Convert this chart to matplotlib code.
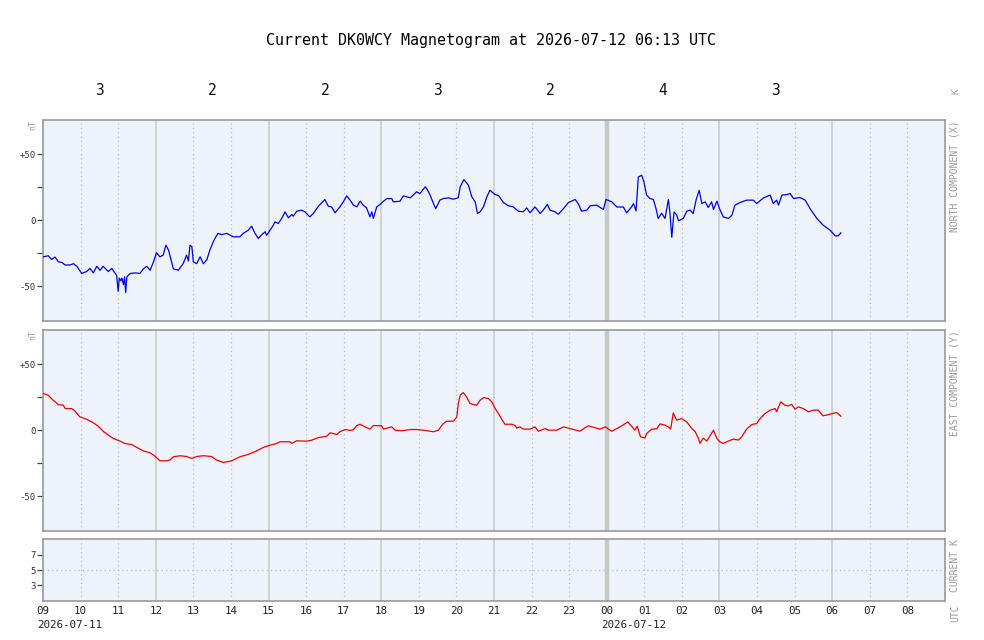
import matplotlib
matplotlib.use("Agg")
import matplotlib.pyplot as plt
import matplotlib.transforms as mtransforms

# ---- data (hours since 2026-07-11 09:00 UTC) ----
x_time = [0.01, 0.14, 0.23, 0.32, 0.41, 0.50, 0.59, 0.72, 0.81, 0.90, 1.03, 1.16, 1.25, 1.34, 1.43,
          1.52, 1.60, 1.74, 1.83, 1.92, 1.96, 2.00, 2.03, 2.07, 2.10, 2.14, 2.17, 2.20, 2.23, 2.32,
          2.45, 2.58, 2.67, 2.76, 2.85, 2.94, 3.02, 3.11, 3.20, 3.27, 3.34, 3.42, 3.47, 3.60, 3.73,
          3.82, 3.87, 3.91, 3.96, 4.00, 4.09, 4.18, 4.27, 4.36, 4.44, 4.53, 4.60, 4.66, 4.75, 4.89,
          5.06, 5.24, 5.33, 5.46, 5.55, 5.64, 5.73, 5.82, 5.91, 5.95, 6.04, 6.13, 6.17, 6.26, 6.35,
          6.44, 6.53, 6.62, 6.66, 6.75, 6.88, 6.97, 7.10, 7.19, 7.33, 7.50, 7.59, 7.68, 7.77, 7.90,
          7.99, 8.08, 8.17, 8.26, 8.35, 8.44, 8.52, 8.61, 8.70, 8.75, 8.79, 8.88, 8.97, 9.06, 9.15,
          9.28, 9.32, 9.50, 9.59, 9.68, 9.77, 9.85, 9.94, 10.03, 10.08, 10.17, 10.21, 10.30, 10.39,
          10.45, 10.56, 10.65, 10.79, 10.92, 11.05, 11.10, 11.20, 11.32, 11.41, 11.50, 11.56, 11.63,
          11.72, 11.81, 11.89, 12.03, 12.12, 12.25, 12.38, 12.51, 12.65, 12.78, 12.87, 12.96, 13.09,
          13.23, 13.31, 13.42, 13.49, 13.62, 13.71, 13.85, 13.98, 14.16, 14.24, 14.33, 14.47, 14.56,
          14.73, 14.91, 14.98, 15.13, 15.27, 15.44, 15.53, 15.66, 15.71, 15.78, 15.84, 15.93, 15.99,
          16.06, 16.15, 16.24, 16.31, 16.37, 16.46, 16.55, 16.64, 16.68, 16.73, 16.79, 16.86, 16.91,
          17.04, 17.13, 17.22, 17.30, 17.38, 17.46, 17.53, 17.62, 17.70, 17.79, 17.84, 17.93, 18.01,
          18.10, 18.24, 18.33, 18.41, 18.55, 18.72, 18.90, 18.99, 19.17, 19.35, 19.43, 19.52, 19.57,
          19.66, 19.79, 19.88, 19.97, 20.14, 20.28, 20.41, 20.59, 20.76, 20.94, 21.08, 21.16, 21.23]
x_north = [-27.8, -27, -29.8, -28, -31.6, -32, -34, -34, -33, -35, -40.4, -39, -36.6, -40, -35,
           -38, -35, -39, -36.6, -40.4, -42, -54, -44, -46, -44, -49, -43, -55, -43, -40.5,
           -40, -40.4, -37, -35, -38, -31.6, -24.7, -27.8, -26.5, -19, -22.7, -31.6, -37, -38, -33,
           -26.5, -31, -19, -20, -31.6, -33, -27.8, -33, -30, -22.7, -16.4, -12.6, -10, -11, -10,
           -12.6, -12.6, -10, -7.6, -4.5, -10, -13.9, -11, -8.8, -11.5, -7.6, -3.8, -1.3, -2.5, 1.3,
           6.3, 1.8, 4.3, 3, 6.8, 7.6, 6.3, 2.5, 5, 10.6, 15.7, 10.6, 10, 5.6, 10.1,
           13.9, 18.4, 15.2, 11.4, 10.1, 14.4, 11.4, 9.3, 2.5, 6.3, 1.3, 10.1, 12, 14.4, 16.4,
           16.4, 13.9, 14.4, 18.4, 17.7, 17, 19, 21.5, 20.2, 22, 25.3, 24, 19, 12.6,
           8.8, 15.2, 16.4, 16.9, 15.9, 17, 25.3, 30.8, 26.5, 17.7, 13.9, 5.1, 6.3,
           10.1, 17.7, 22.7, 19.4, 18.7, 13.4, 11, 10.1, 6.8, 6.4, 9.3, 5.6, 10.1,
           5.1, 7.6, 12, 7.6, 6.4, 4.5, 8.8, 13.4, 15.7, 12.6, 6.8, 7.6, 10.9,
           11.4, 8.1, 15.7, 14, 10, 10, 5.6, 10, 12.6, 7, 32.8, 34, 29,
           19, 16.4, 15.7, 8.8, 1.3, 5.3, 1.3, 15.7, 6, -13, 6.3, 4, -0.5,
           1.5, 6.8, 7.6, 5, 15.7, 22.7, 12.6, 13.9, 9.6, 13.9, 8.1, 14.4, 8.1,
           2.5, 1.3, 3.8, 11.4, 13.4, 15.2, 15.2, 12.6, 16.9, 19, 12.6, 15.2, 11.4,
           19, 19.4, 20.2, 16.4, 17.2, 15.2, 8.8, 1.3, -3.8, -7.6, -11.9, -11.9, -9.6]

y_time = [0.01, 0.14, 0.27, 0.41, 0.54, 0.59, 0.76, 0.85, 0.98, 1.16, 1.34, 1.47, 1.60, 1.74, 1.87,
          2.05, 2.18, 2.36, 2.49, 2.67, 2.85, 2.98, 3.11, 3.29, 3.38, 3.47, 3.65, 3.82, 3.96, 4.09,
          4.27, 4.49, 4.62, 4.80, 4.98, 5.06, 5.24, 5.46, 5.69, 5.86, 6.04, 6.22, 6.31, 6.57, 6.62,
          6.75, 7.02, 7.15, 7.33, 7.55, 7.64, 7.82, 7.90, 8.04, 8.17, 8.26, 8.35, 8.44, 8.57, 8.70,
          8.79, 9.01, 9.06, 9.28, 9.37, 9.55, 9.77, 9.94, 10.12, 10.39, 10.52, 10.65, 10.74, 10.92,
          11.01, 11.05, 11.10, 11.18, 11.27, 11.36, 11.54, 11.63, 11.72, 11.85, 11.94, 12.03, 12.12,
          12.21, 12.29, 12.47, 12.56, 12.61, 12.69, 12.78, 12.96, 13.09, 13.18, 13.36, 13.45, 13.67,
          13.85, 14.02, 14.29, 14.42, 14.51, 14.82, 14.96, 15.13, 15.27, 15.40, 15.56, 15.66, 15.75,
          15.81, 15.90, 16.02, 16.06, 16.20, 16.33, 16.42, 16.55, 16.64, 16.70, 16.77, 16.86, 16.99,
          17.13, 17.26, 17.35, 17.44, 17.48, 17.57, 17.66, 17.75, 17.84, 17.93, 18.01, 18.10, 18.19,
          18.37, 18.50, 18.59, 18.72, 18.86, 18.99, 19.08, 19.21, 19.35, 19.48, 19.52, 19.63, 19.74,
          19.83, 19.92, 20.01, 20.10, 20.23, 20.37, 20.50, 20.63, 20.75, 20.86, 21.00, 21.12, 21.23]
y_east = [27.8, 26.5, 22.7, 19.4, 19, 16.4, 16.4, 14.6, 10.1, 8.3, 5.6, 3, -0.8, -3.8, -6.3,
          -8.3, -10.1, -10.9, -13, -15.7, -17.2, -19.7, -23.2, -23.2, -22.7, -20.2, -19.4, -20, -21.5, -20,
          -19.4, -20, -22.7, -24.5, -23.5, -22.7, -20.2, -18.4, -15.7, -13.1, -11.4, -10.1, -8.8, -8.8, -10,
          -8.1, -8.3, -7.6, -5.6, -4.6, -2, -3.3, -1.2, 0.5, -0.2, 0.3, 3.5, 4.5, 2.5, 0.8,
          3.5, 3.3, 0.8, 2.5, 0, -0.5, 0.5, 0.5, 0, -1.2, 0, 5, 6.8, 6.8,
          10, 20.2, 26.5, 28.5, 25.3, 20.2, 18.9, 22.7, 24.7, 24, 21.5, 16.4, 12.6,
          8.1, 4.5, 4.5, 3.5, 1.5, 2.5, 0.8, 0.8, 2.5, -0.8, 1.2, 0, 0,
          2.5, 1.2, -0.8, 1.8, 3.3, 0.8, 2.5, -0.8, 1.2, 3.3, 6.3, 3, 0,
          3, -5.1, -5.8, -2.5, 0.8, 1, 4.8, 3.8, 2.5, 0.8, 13.1, 7.6, 8.8,
          6.3, 1.3, -1, -6.3, -10, -6, -8.3, -4.1, 0, -6.3, -8.8, -10.1, -8.8,
          -6.8, -7.5, -5.1, 0.8, 4.3, 5, 8.8, 12.6, 15.2, 16.4, 14, 21.5, 19,
          18.4, 19.6, 15.9, 17.7, 16.4, 13.9, 15.2, 15.2, 10.9, 11.5, 12.6, 13.4, 10.6]

k_values = [3, 2, 2, 3, 2, 4, 3]
hour_labels = ["09", "10", "11", "12", "13", "14", "15", "16", "17", "18", "19", "20",
               "21", "22", "23", "00", "01", "02", "03", "04", "05", "06", "07", "08"]
date_labels = ["2026-07-11", "2026-07-12"]
title_text = "Current DK0WCY Magnetogram at 2026-07-12 06:13 UTC"

# ---- style ----
MONO = ["DejaVu Sans Mono"]
BG = "#eef3fb"
SPINE = "#999999"
GRID_SOLID = "#c8c8c8"
GRID_DOT = "#b8bccb"
LABEL_GRAY = "#9a9a9a"

fig = plt.figure(figsize=(9.84, 6.4), dpi=100)
W, H = 984.0, 640.0
L, R = 43, 945


def make_ax(top, bottom):
    return fig.add_axes([L / W, 1 - bottom / H, (R - L) / W, (bottom - top) / H])


ax_x = make_ax(120, 321)
ax_y = make_ax(330, 531)
ax_k = make_ax(539, 601)


def decorate(ax):
    ax.set_facecolor(BG)
    for s in ax.spines.values():
        s.set_color(SPINE)
        s.set_linewidth(1.2)
    ax.set_xlim(0, 24)
    for h in range(1, 24):
        if h == 15:
            ax.axvline(h, color=GRID_SOLID, lw=3.2, zorder=1)
        elif h % 3 == 0:
            ax.axvline(h, color=GRID_SOLID, lw=1.1, zorder=1)
        else:
            ax.axvline(h, color=GRID_DOT, lw=0.9, ls=(0, (1, 2.5)), zorder=1)
    ax.set_xticks([])
    ax.tick_params(axis="y", direction="out", length=4, width=0.9, color="#444444",
                   labelsize=6.5, labelcolor="#333333", pad=1)


for ax, t, v, c in [(ax_x, x_time, x_north, "#0000ee"), (ax_y, y_time, y_east, "#ee0000")]:
    decorate(ax)
    ax.set_ylim(-76.5, 76)
    ax.set_yticks([-50, -25, 0, 25, 50])
    ax.set_yticklabels(["-50", "", "0", "", "+50"], family=MONO)
    ax.plot(t, v, color=c, lw=0.9, zorder=3)
    ax.text(-0.006, 1.0, "nT", transform=ax.transAxes, rotation=90, ha="right", va="top",
            fontsize=6, color=LABEL_GRAY, family=MONO)

decorate(ax_k)
ax_k.set_ylim(0.9, 9.1)
ax_k.set_yticks([3, 5, 7])
ax_k.set_yticklabels(["3", "5", "7"], family=MONO)
ax_k.axhline(5, color=GRID_DOT, lw=0.9, ls=(0, (1, 2.5)), zorder=1)

# hour labels below bottom panel
bt = mtransforms.blended_transform_factory(ax_k.transData, ax_k.transAxes)
for i, lab in enumerate(hour_labels):
    ax_k.text(i, -0.08, lab, transform=bt, ha="center", va="top", fontsize=7.8,
              family=MONO, color="#222222")
ax_k.text(-0.15, -0.3, date_labels[0], transform=bt, ha="left", va="top", fontsize=7.8,
          family=MONO, color="#222222")
ax_k.text(14.85, -0.3, date_labels[1], transform=bt, ha="left", va="top", fontsize=7.8,
          family=MONO, color="#222222")

# K values above top panel
kt = mtransforms.blended_transform_factory(ax_x.transData, ax_x.transAxes)
for i, k in enumerate(k_values):
    ax_x.text(1.5 + 3 * i, 1.145, str(k), transform=kt, ha="center", va="center",
              fontsize=10.5, family=MONO, color="#111111")
ax_x.text(24.3, 1.145, "K", transform=kt, ha="center", va="center", rotation=90,
          fontsize=6.5, family=MONO, color=LABEL_GRAY)

# right side labels
for ax, txt in [(ax_x, "NORTH COMPONENT (X)"), (ax_y, "EAST COMPONENT (Y)"), (ax_k, "CURRENT K")]:
    ax.text(1.011, 1.0, txt, transform=ax.transAxes, rotation=90, ha="center", va="top",
            fontsize=7.0, family=MONO, color=LABEL_GRAY)
ax_k.text(1.011, -0.05, "UTC", transform=ax_k.transAxes, rotation=90, ha="center", va="top",
          fontsize=7.0, family=MONO, color=LABEL_GRAY)

fig.text(491 / W, 1 - 40 / H, title_text, ha="center", va="center", fontsize=10.8,
         family=MONO, color="#000000")

fig.savefig("out.png", dpi=100, facecolor="white")
